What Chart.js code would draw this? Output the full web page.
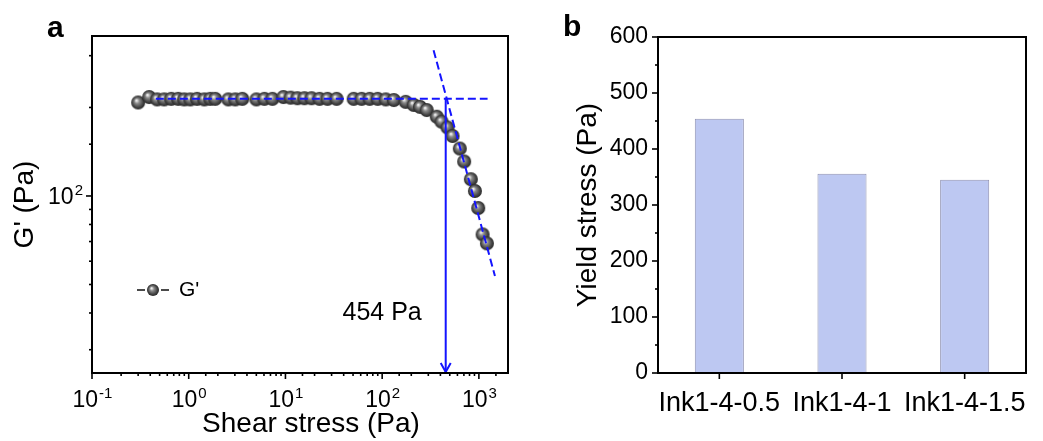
<!DOCTYPE html>
<html>
<head>
<meta charset="utf-8">
<script src="https://cdn.jsdelivr.net/npm/chart.js@4.4.0/dist/chart.umd.min.js"></script>
<style>
  body { margin: 0; background: #fff; }
  #wrap { position: relative; width: 1043px; height: 441px; }
  canvas { position: absolute; top: 0; }
  #chartA { left: 0; }
  #chartB { left: 520px; }
  .tag { position: absolute; font: bold 30px "Liberation Sans", Arial, sans-serif; line-height: 30px; color: #000; }
</style>
</head>
<body>
<div id="wrap">
  <canvas id="chartA" width="520" height="441"></canvas>
  <canvas id="chartB" width="523" height="441"></canvas>
  <div class="tag" style="left:47px; top:12px;">a</div>
  <div class="tag" style="left:563px; top:11px;">b</div>
</div>
<script>
// ---- panel a data: amplitude sweep ----
var shearStress = [0.300, 0.390, 0.472, 0.557, 0.659, 0.778, 0.898, 1.04, 1.22, 1.45, 1.67, 1.88,
   2.57, 3.03, 3.58, 5.01, 6.06, 7.33, 9.53, 11.3, 13.3, 15.7, 18.6, 22.5, 27.2, 33.8,
   50.7, 61.3, 74.2, 89.8, 109, 132,
   175, 212, 246, 289, 367, 411, 474, 534, 635, 704, 826, 909, 984, 1092, 1211];
var storageModulus = [208, 217, 213, 213, 214, 214, 213, 213, 214, 213, 214, 214,
   213, 213, 214, 213, 214, 214, 217, 216, 215, 215, 215, 214, 214, 214,
   214, 214, 214, 214, 213, 212,
   209, 204, 201, 196, 186, 179, 171, 160, 145, 131, 114, 104, 91, 74, 69];

// tangent lines and yield point
var plateauX = [0.457, 1230];
var plateauY = [214, 214];
var slopeX = [340, 1466];
var slopeY = [313, 53.4];
var yieldStress = 454;
var arrowY = [214, 25];

// ---- panel b data ----
var inks = ["Ink1-4-0.5", "Ink1-4-1", "Ink1-4-1.5"];
var yieldValues = [454, 356, 345];

var FONT = '"Liberation Sans", Arial, sans-serif';
Chart.defaults.font.family = FONT;
Chart.defaults.color = "#000";

var blue = "#1414ff";

function sphere(r) {
   var c = document.createElement("canvas");
   c.width = c.height = 2 * r + 2;
   var g = c.getContext("2d");
   var m = r + 1;
   var grad = g.createRadialGradient(m - r * 0.25, m - r * 0.3, r * 0.08, m, m, r);
   grad.addColorStop(0, "#eeeeee");
   grad.addColorStop(0.3, "#8a8a8a");
   grad.addColorStop(0.75, "#444444");
   grad.addColorStop(1, "#262626");
   g.fillStyle = grad;
   g.beginPath();
   g.arc(m, m, r, 0, Math.PI * 2);
   g.fill();
   return c;
}
var ball = sphere(7);
var smallBall = sphere(6);

// label only the decades; the text is drawn below as 10 with a raised exponent
function powLabel(v) {
   var l = Math.log10(v);
   var e = Math.round(l);
   if (Math.abs(l - e) > 1e-6) return "";
   return "10^" + e;
}

function pairs(xs, ys) {
   var out = [];
   for (let i = 0; i < xs.length; i++) out.push({ x: xs[i], y: ys[i] });
   return out;
}

function drawPow(ctx, t, x, y, align) {
   var e = String(Math.round(Math.log10(t.value)));
   ctx.font = "23px " + FONT;
   var bw = ctx.measureText("10").width;
   ctx.font = "15px " + FONT;
   var ew = ctx.measureText(e).width;
   var x0 = align === "right" ? x - bw - ew : x - (bw + ew) / 2;
   ctx.textAlign = "left";
   ctx.textBaseline = "alphabetic";
   ctx.font = "23px " + FONT;
   ctx.fillText("10", x0, y);
   ctx.font = "15px " + FONT;
   ctx.fillText(e, x0 + bw + 1, y - 9);
}

// box round the plot and hand-drawn tick marks (long for labelled, short for the rest)
var frame = {
   id: "frame",
   afterDraw: function (chart, args, opts) {
      var ctx = chart.ctx, a = chart.chartArea;
      ctx.save();
      ctx.strokeStyle = "#000";
      ctx.fillStyle = "#000";
      ctx.lineWidth = 2;
      ctx.strokeRect(a.left, a.top, a.right - a.left, a.bottom - a.top);
      ctx.lineWidth = 1.6;
      ["x", "y"].forEach(function (id) {
         var s = chart.scales[id];
         s.ticks.forEach(function (t, i) {
            var major = t.label !== "" && t.label != null;
            if (!major && (t.value === s.min || t.value === s.max)) return;
            var len = major ? opts.major : opts.minor;
            var p = s.getPixelForTick(i);
            ctx.beginPath();
            if (s.isHorizontal()) {
               ctx.moveTo(p, a.bottom);
               ctx.lineTo(p, a.bottom + len);
            } else {
               ctx.moveTo(a.left, p);
               ctx.lineTo(a.left - len, p);
            }
            ctx.stroke();
            if (opts.power && major) {
               if (s.isHorizontal()) drawPow(ctx, t, p, a.bottom + 34, "center");
               else drawPow(ctx, t, a.left - 10, p + 8, "right");
            }
         });
      });
      ctx.restore();
   }
};

// arrow head, "454 Pa" note, legend and x title for panel a
var notes = {
   id: "notes",
   afterDatasetsDraw: function (chart) {
      var ctx = chart.ctx, a = chart.chartArea;
      var xs = chart.scales.x, ys = chart.scales.y;
      var px = xs.getPixelForValue(yieldStress);
      ctx.save();
      ctx.strokeStyle = blue;
      ctx.lineWidth = 2;
      ctx.beginPath();
      ctx.moveTo(px - 5, a.bottom - 10);
      ctx.lineTo(px, a.bottom - 1);
      ctx.lineTo(px + 5, a.bottom - 10);
      ctx.stroke();

      ctx.fillStyle = "#000";
      ctx.font = "25px " + FONT;
      ctx.textAlign = "right";
      ctx.textBaseline = "middle";
      ctx.fillText(yieldStress + " Pa", px - 24, ys.getPixelForValue(40));

      // legend
      var ly = 290;
      ctx.strokeStyle = "#4a4a4a";
      ctx.lineWidth = 2;
      ctx.beginPath();
      ctx.moveTo(137, ly); ctx.lineTo(145, ly);
      ctx.moveTo(161, ly); ctx.lineTo(169, ly);
      ctx.stroke();
      ctx.drawImage(smallBall, 153 - smallBall.width / 2, ly - smallBall.height / 2);
      ctx.textAlign = "left";
      ctx.font = "21px " + FONT;
      ctx.fillText("G'", 179, ly);

      ctx.textAlign = "center";
      ctx.font = "28px " + FONT;
      ctx.fillText("Shear stress (Pa)", (a.left + a.right) / 2 + 11, 424);
      ctx.restore();
   }
};

var ctxA = document.getElementById("chartA").getContext("2d");
var chartA = new Chart(ctxA, {
   type: "line",
   data: {
      datasets: [
         {
            label: "G'",
            data: pairs(shearStress, storageModulus),
            showLine: false,
            pointStyle: ball,
            order: 3,
         },
         {
            label: "plateau",
            data: pairs(plateauX, plateauY),
            borderColor: blue,
            borderWidth: 2,
            borderDash: [8, 4],
            pointRadius: 0,
            order: 1,
         },
         {
            label: "flow",
            data: pairs(slopeX, slopeY),
            borderColor: blue,
            borderWidth: 2,
            borderDash: [8, 4],
            pointRadius: 0,
            order: 1,
         },
         {
            label: "yield",
            data: pairs([yieldStress, yieldStress], arrowY),
            borderColor: blue,
            borderWidth: 2,
            pointRadius: 0,
            order: 1,
         },
      ],
   },
   options: {
      responsive: false,
      animation: false,
      events: [],
      layout: { padding: { top: 36, right: 12, left: 0, bottom: 0 } },
      plugins: {
         legend: { display: false },
         tooltip: { enabled: false },
         frame: { major: 6, minor: 3, power: true },
      },
      scales: {
         x: {
            type: "logarithmic",
            min: 0.1,
            max: 2000,
            grid: { display: false, drawTicks: false },
            border: { display: false },
            ticks: { display: false, callback: powLabel, autoSkip: false, maxRotation: 0 },
            afterFit: function (s) { s.height = 68; },
         },
         y: {
            type: "logarithmic",
            min: 25,
            max: 350,
            grid: { display: false, drawTicks: false },
            border: { display: false },
            ticks: { display: false, callback: powLabel, autoSkip: false },
            title: { display: true, text: "G' (Pa)", font: { size: 28 }, padding: { top: 8, bottom: 0 } },
            afterFit: function (s) { s.width = 92; },
         },
      },
   },
   plugins: [frame, notes],
});

var ctxB = document.getElementById("chartB").getContext("2d");
var chartB = new Chart(ctxB, {
   type: "bar",
   data: {
      labels: inks,
      datasets: [
         {
            label: "Yield stress",
            data: yieldValues,
            backgroundColor: "#bdc8f2",
            borderColor: "#9093b3",
            borderWidth: 1,
            barPercentage: 0.4,
            categoryPercentage: 1,
         },
      ],
   },
   options: {
      responsive: false,
      animation: false,
      events: [],
      layout: { padding: { top: 37, right: 17, left: 0, bottom: 0 } },
      plugins: {
         legend: { display: false },
         tooltip: { enabled: false },
         frame: { major: 6, minor: 3 },
      },
      scales: {
         x: {
            grid: { display: false, drawTicks: false },
            border: { display: false },
            ticks: { font: { size: 27 }, padding: 14, maxRotation: 0, autoSkip: false },
            afterFit: function (s) { s.height = 68; },
         },
         y: {
            min: 0,
            max: 600,
            grid: { display: false, drawTicks: false },
            border: { display: false },
            ticks: {
               stepSize: 50,
               autoSkip: false,
               callback: function (v) { return v % 100 === 0 ? v : ""; },
               font: { size: 23 },
               padding: 10,
            },
            title: { display: true, text: "Yield stress (Pa)", font: { size: 28 }, padding: { top: 51, bottom: 0 } },
            afterFit: function (s) { s.width = 138; },
         },
      },
   },
   plugins: [frame],
});
</script>
</body>
</html>
